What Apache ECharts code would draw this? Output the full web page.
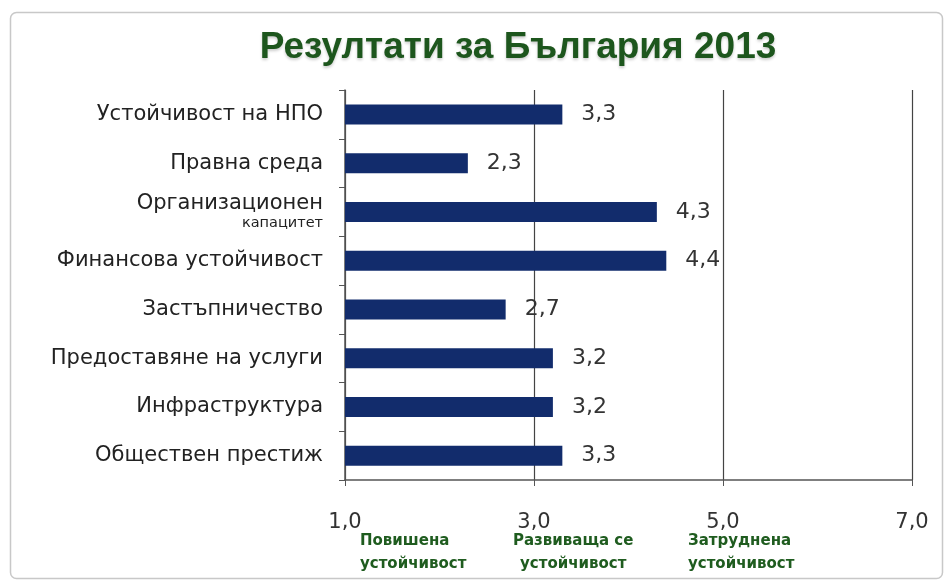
<!DOCTYPE html>
<html><head><meta charset="utf-8">
<script src="https://cdn.jsdelivr.net/npm/echarts@6/dist/echarts.min.js"></script>
<style>html,body{margin:0;padding:0;background:#fff}#c{width:950px;height:582px}</style>
</head><body><div id="c"></div>
<script>
const categories = ['Устойчивост на НПО','Правна среда','Организационен\nкапацитет','Финансова устойчивост','Застъпничество','Предоставяне на услуги','Инфраструктура','Обществен престиж'];
const values = [3.3, 2.3, 4.3, 4.4, 2.7, 3.2, 3.2, 3.3];
const xTicks = [1, 3, 5, 7];
const zoneLabels = ['Повишена\nустойчивост','Развиваща се\nустойчивост','Затруднена\nустойчивост'];
const titleText = 'Резултати за България 2013';

const chart = echarts.init(document.getElementById('c'));
const fmt = v => v.toFixed(1).replace('.', ',');
chart.setOption({
  animation: false,
  backgroundColor: '#fff',
  title: {text: titleText, left: 513, top: 24, textAlign: 'center',
    textStyle: {fontFamily: 'Liberation Sans', fontWeight: 'bold', fontSize: 37, color: '#1d561d',
      textShadowColor: 'rgba(0,0,0,0.2)', textShadowBlur: 3, textShadowOffsetY: 2}},
  grid: {left: 345, right: 38, top: 90, bottom: 102},
  xAxis: {type: 'value', min: 1, max: 7, interval: 2,
    axisLine: {show: true, lineStyle: {color: '#555', width: 1.5}},
    axisTick: {show: true, inside: false, length: 6, lineStyle: {color: '#555'}},
    splitLine: {show: true, lineStyle: {color: '#444', width: 1.2}},
    axisLabel: {formatter: v => fmt(v), fontFamily: 'DejaVu Sans', fontSize: 21, color: '#333', margin: 32}},
  yAxis: {type: 'category', data: categories, inverse: true,
    axisLine: {show: true, lineStyle: {color: '#555', width: 1.5}},
    axisTick: {show: true, length: 6, lineStyle: {color: '#555'}},
    axisLabel: {margin: 22, fontFamily: 'DejaVu Sans', fontSize: 21, color: '#222',
      formatter: v => v.indexOf('\n') >= 0 ? '{a|' + v.split('\n')[0] + '}\n{b|' + v.split('\n')[1] + '}' : v,
      rich: {a: {fontFamily: 'DejaVu Sans', fontSize: 21, color: '#222', align: 'right', lineHeight: 22},
             b: {fontFamily: 'DejaVu Sans', fontSize: 14.5, color: '#222', align: 'right', lineHeight: 17}}}},
  series: [{type: 'bar', data: values, barWidth: 20,
    itemStyle: {color: '#122c6c'},
    label: {show: true, position: 'right', distance: 19, formatter: p => fmt(p.value),
      fontFamily: 'DejaVu Sans', fontSize: 22, color: '#333'}}],
  graphic: [
    {type: 'rect', left: 8, top: 10, shape: {width: 932, height: 566, r: 6}, silent: true, z: -1,
      style: {fill: 'none', stroke: '#c8c8c8', lineWidth: 1.5}},
    {type: 'text', left: 360, top: 530, style: {text: zoneLabels[0], fontFamily: 'DejaVu Sans', fontWeight: 'bold', fontSize: 15, lineHeight: 23, fill: '#1f5c1f', textAlign: 'left'}},
    {type: 'text', left: 513, top: 530, style: {text: zoneLabels[1], fontFamily: 'DejaVu Sans', fontWeight: 'bold', fontSize: 15, lineHeight: 23, fill: '#1f5c1f', textAlign: 'center'}},
    {type: 'text', left: 688, top: 530, style: {text: zoneLabels[2], fontFamily: 'DejaVu Sans', fontWeight: 'bold', fontSize: 15, lineHeight: 23, fill: '#1f5c1f', textAlign: 'left'}}
  ]
});
</script></body></html>
